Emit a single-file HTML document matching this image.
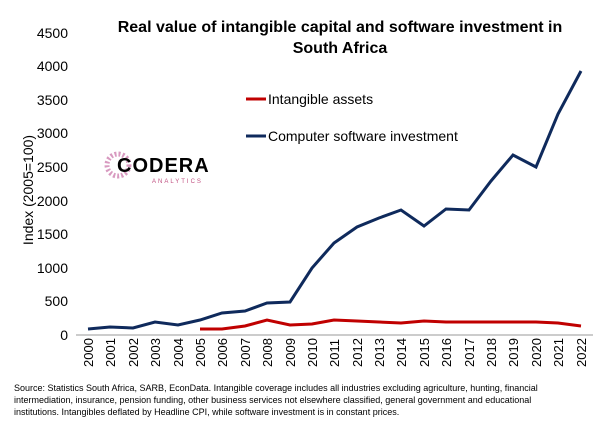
<!DOCTYPE html><html><head><style>body{margin:0;background:#fff}svg{display:block;font-family:"Liberation Sans",sans-serif}</style></head><body>
<svg width="602" height="445" xmlns="http://www.w3.org/2000/svg">
<text x="340" y="32" text-anchor="middle" font-size="16" font-weight="bold">Real value of intangible capital and software investment in</text>
<text x="340" y="53" text-anchor="middle" font-size="16" font-weight="bold">South Africa</text>
<g font-size="14" text-anchor="end" fill="#000">
<text x="68" y="340">0</text><text x="68" y="306">500</text><text x="68" y="273">1000</text><text x="68" y="239">1500</text><text x="68" y="206">2000</text><text x="68" y="172">2500</text><text x="68" y="138">3000</text><text x="68" y="105">3500</text><text x="68" y="71">4000</text><text x="68" y="38">4500</text>
</g>
<text transform="translate(33,190) rotate(-90)" text-anchor="middle" font-size="14">Index (2005=100)</text>
<line x1="76" y1="335" x2="593" y2="335" stroke="#999"/>
<g id="xl" font-size="13"></g>
<polyline fill="none" stroke="#0f2a5c" stroke-width="3" points="88,329 110,327 133,328 155,322 178,325 200,320 222,313 245,311 267,303 290,302 312,268 334,243 357,227 379,218 401,210 424,226 446,209 469,210 491,181 513,155 536,167 558,114 581,71"/>
<polyline fill="none" stroke="#c00000" stroke-width="3" points="200,329 222,329 245,326 267,320 290,325 312,324 334,320 357,321 379,322 401,323 424,321 446,322 469,322 491,322 513,322 536,322 558,323 581,326"/>
<line x1="246" y1="99" x2="266" y2="99" stroke="#c00000" stroke-width="3"/>
<text x="268" y="104" font-size="14">Intangible assets</text>
<line x1="246" y1="136" x2="266" y2="136" stroke="#0f2a5c" stroke-width="3"/>
<text x="268" y="141" font-size="14">Computer software investment</text>
<circle cx="118" cy="165" r="11" fill="none" stroke="#d89ac0" stroke-width="5" stroke-dasharray="2 2"/>
<text x="117" y="172" font-size="20" font-weight="bold" letter-spacing="1">CODERA</text>
<text x="152" y="183" font-size="6" fill="#c05080" letter-spacing="2">ANALYTICS</text>
<g font-size="9">
<text x="14" y="391">Source: Statistics South Africa, SARB, EconData. Intangible coverage includes all industries excluding agriculture, hunting, financial</text>
<text x="14" y="403">intermediation, insurance, pension funding, other business services not elsewhere classified, general government and educational</text>
<text x="14" y="415">institutions. Intangibles deflated by Headline CPI, while software investment is in constant prices.</text>
</g>
<g font-size="13">
<text transform="translate(93,367) rotate(-90)">2000</text><text transform="translate(115,367) rotate(-90)">2001</text><text transform="translate(138,367) rotate(-90)">2002</text><text transform="translate(160,367) rotate(-90)">2003</text><text transform="translate(183,367) rotate(-90)">2004</text><text transform="translate(205,367) rotate(-90)">2005</text><text transform="translate(227,367) rotate(-90)">2006</text><text transform="translate(250,367) rotate(-90)">2007</text><text transform="translate(272,367) rotate(-90)">2008</text><text transform="translate(295,367) rotate(-90)">2009</text><text transform="translate(317,367) rotate(-90)">2010</text><text transform="translate(339,367) rotate(-90)">2011</text><text transform="translate(362,367) rotate(-90)">2012</text><text transform="translate(384,367) rotate(-90)">2013</text><text transform="translate(406,367) rotate(-90)">2014</text><text transform="translate(429,367) rotate(-90)">2015</text><text transform="translate(451,367) rotate(-90)">2016</text><text transform="translate(474,367) rotate(-90)">2017</text><text transform="translate(496,367) rotate(-90)">2018</text><text transform="translate(518,367) rotate(-90)">2019</text><text transform="translate(541,367) rotate(-90)">2020</text><text transform="translate(563,367) rotate(-90)">2021</text><text transform="translate(586,367) rotate(-90)">2022</text>
</g>
</svg></body></html>
